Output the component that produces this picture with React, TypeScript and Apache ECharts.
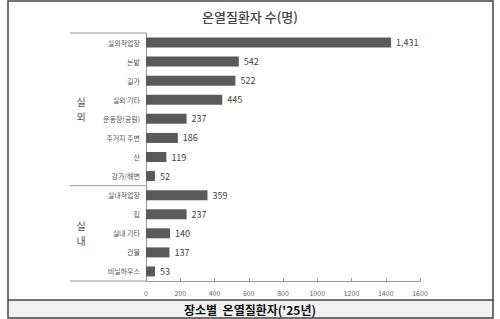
import React, { useEffect, useRef } from "react";
import * as echarts from "echarts";

const categories = [
  "실외작업장",
  "논밭",
  "길가",
  "실외 기타",
  "운동장(공원)",
  "주거지 주변",
  "산",
  "강가/해변",
  "실내작업장",
  "집",
  "실내 기타",
  "건물",
  "비닐하우스",
];
const values = [1431, 542, 522, 445, 237, 186, 119, 52, 359, 237, 140, 137, 53];
const groupNames = ["실\n외", "실\n내"];
const groupSizes = [8, 5];
const xTicks = { min: 0, max: 1600, interval: 200 };
const titleText = "온열질환자 수(명)";
const captionText = "장소별  온열질환자('25년)";

const FONT = "'Noto Sans CJK KR', 'Noto Sans', sans-serif";

export default function App() {
  const ref = useRef<HTMLDivElement>(null);
  useEffect(() => {
    if (!ref.current) return;
    const chart = echarts.init(ref.current, undefined, { renderer: "svg" });
    const option: any = {
      animation: false,
      textStyle: { fontFamily: FONT },
      title: {
        text: titleText,
        left: 197,
        top: 5,
        textStyle: { fontSize: 13, fontWeight: 500, color: "#444", fontFamily: FONT },
      },
      grid: { left: 146, right: 80, top: 33, bottom: 38, containLabel: false },
      xAxis: {
        type: "value",
        min: xTicks.min,
        max: xTicks.max,
        interval: xTicks.interval,
        axisLine: { show: true, lineStyle: { color: "#999", width: 1 } },
        axisTick: { show: true, length: 3, inside: true, lineStyle: { color: "#999" } },
        axisLabel: {
          fontSize: 7,
          color: "#666",
          margin: 8,
          fontFamily: FONT,
          formatter: (v: number) => String(v),
        },
        splitLine: { show: false },
      },
      yAxis: {
        type: "category",
        data: categories,
        inverse: true,
        axisLine: { show: true, lineStyle: { color: "#999", width: 1 } },
        axisTick: { show: false },
        axisLabel: { fontSize: 7, color: "#555", margin: 6, fontFamily: FONT },
      },
      series: [
        {
          type: "bar",
          data: values,
          barWidth: 10,
          itemStyle: { color: "#5a5a5a" },
          label: {
            show: true,
            position: "right",
            distance: 5,
            fontSize: 9,
            color: "#404040",
            fontFamily: FONT,
            formatter: (p: any) => Number(p.value).toLocaleString("en-US"),
          },
        },
      ],
    };
    chart.setOption(option);

    const c0 = chart.convertToPixel({ yAxisIndex: 0 }, categories[0]) as number;
    const c1 = chart.convertToPixel({ yAxisIndex: 0 }, categories[1]) as number;
    const band = c1 - c0;
    const xLeft = 70;
    const x0 = chart.convertToPixel({ xAxisIndex: 0 }, 0) as number;
    const graphics: any[] = [];
    let start = 0;
    groupSizes.forEach((size, gi) => {
      const top = c0 + (start - 0.5) * band;
      const bottom = c0 + (start + size - 0.5) * band;
      graphics.push({
        type: "line",
        shape: { x1: xLeft, y1: top, x2: x0, y2: top },
        style: { stroke: "#999", lineWidth: 1 },
      });
      if (gi === groupSizes.length - 1) {
        graphics.push({
          type: "line",
          shape: { x1: xLeft, y1: bottom, x2: x0, y2: bottom },
          style: { stroke: "#999", lineWidth: 1 },
        });
      }
      graphics.push({
        type: "text",
        x: 81,
        y: (top + bottom) / 2,
        style: {
          text: groupNames[gi],
          fontSize: 10,
          lineHeight: 15,
          fill: "#555",
          fontFamily: FONT,
          align: "center",
          verticalAlign: "middle",
        },
      });
      start += size;
    });
    graphics.push(
      {
        type: "rect",
        shape: { x: 8, y: 300, width: 485, height: 18 },
        style: { fill: "#f2f2f2", stroke: "none" },
      },
      {
        type: "rect",
        shape: { x: 8, y: 1, width: 485, height: 317 },
        style: { fill: "none", stroke: "#444", lineWidth: 1.5 },
      },
      {
        type: "line",
        shape: { x1: 8, y1: 300, x2: 493, y2: 300 },
        style: { stroke: "#444", lineWidth: 1.5 },
      },
      {
        type: "text",
        x: 250,
        y: 309,
        style: {
          text: captionText,
          fontSize: 12,
          fontWeight: "bold",
          fill: "#111",
          fontFamily: FONT,
          align: "center",
          verticalAlign: "middle",
        },
      }
    );
    chart.setOption({ graphic: graphics });
    return () => chart.dispose();
  }, []);
  return (
    <div
      ref={ref}
      style={{ position: "absolute", left: 0, top: 0, width: 500, height: 319, background: "#fff" }}
    />
  );
}
